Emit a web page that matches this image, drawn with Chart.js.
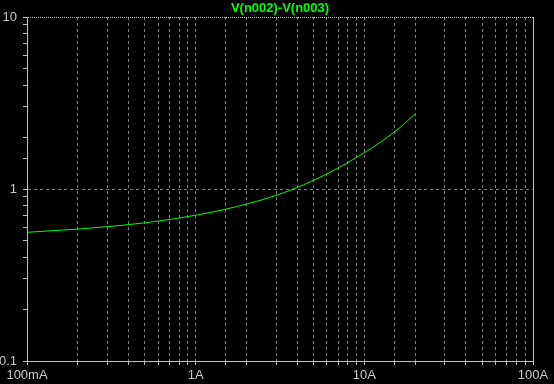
<!DOCTYPE html>
<html>
<head>
<meta charset="utf-8">
<script src="https://cdn.jsdelivr.net/npm/chart.js@4.4.1/dist/chart.umd.min.js"></script>
<style>
  html, body { margin: 0; padding: 0; background: #000; overflow: hidden; }
  canvas { display: block; background: #000; }
</style>
</head>
<body>
<canvas id="plot" width="554" height="384"></canvas>
<script>
// trace (current in A, voltage in V)
const traceName = 'V(n002)-V(n003)';
const currentA = [0.1, 0.163, 0.271, 0.522, 1.02, 1.45, 2.10, 2.83, 3.88, 4.89,
                  6.26, 7.89, 9.95, 12.4, 15.2, 17.4, 19.95];
const voltageV = [0.560, 0.577, 0.599, 0.639, 0.706, 0.757, 0.827, 0.902, 1.008, 1.112,
                  1.251, 1.416, 1.621, 1.864, 2.158, 2.412, 2.735];

const xMajorTicks = [0.1, 1, 10, 100];
const xTickLabels = ['100mA', '1A', '10A', '100A'];
const yMajorTicks = [0.1, 1, 10];
const yTickLabels = ['0.1', '1', '10'];

const GRID = '#808080';
const AXIS = '#c0c0c0';
const TEXT = '#c8c8c8';
const TRACE = '#00ff00';
const FONT = '"Liberation Sans", Arial, sans-serif';

function majorIndex(list, v) {
    return list.findIndex(m => Math.abs(m - v) / m < 1e-6);
}

// title drawn above the plot frame
const traceTitle = {
    id: 'traceTitle',
    afterDraw(chart) {
        const { ctx, chartArea } = chart;
        ctx.save();
        ctx.font = 'bold 13px ' + FONT;
        ctx.fillStyle = TRACE;
        ctx.textAlign = 'center';
        ctx.textBaseline = 'middle';
        ctx.fillText(traceName, (chartArea.left + chartArea.right) / 2, 8);
        ctx.restore();
    }
};

const ctx = document.getElementById('plot').getContext('2d');
new Chart(ctx, {
    type: 'line',
    data: {
        datasets: [{
            label: traceName,
            data: currentA.map((x, i) => ({ x: x, y: voltageV[i] })),
            borderColor: TRACE,
            borderWidth: 1,
            pointRadius: 0,
            fill: false,
            cubicInterpolationMode: 'monotone'
        }]
    },
    options: {
        responsive: false,
        animation: false,
        devicePixelRatio: 1,
        layout: { padding: { top: 17, right: 21, left: 0, bottom: 0 } },
        plugins: {
            legend: { display: false },
            tooltip: { enabled: false }
        },
        scales: {
            x: {
                type: 'logarithmic',
                min: 0.1,
                max: 100,
                afterFit(s) { s.height = 23; },
                grid: {
                    color: c => {
                        const k = majorIndex(xMajorTicks, c.tick.value);
                        if (k === 0) return 'transparent';
                        if (k === xMajorTicks.length - 1) return AXIS;
                        return GRID;
                    },
                    tickColor: AXIS,
                    tickLength: 4
                },
                border: {
                    color: AXIS,
                    dash: c => (c.tick && majorIndex(xMajorTicks, c.tick.value) === xMajorTicks.length - 1) ? [] : [3, 3]
                },
                ticks: {
                    autoSkip: false,
                    maxRotation: 0,
                    padding: 3,
                    color: TEXT,
                    font: { family: FONT, size: 13 },
                    callback: v => {
                        const k = majorIndex(xMajorTicks, v);
                        return k < 0 ? '' : xTickLabels[k];
                    }
                }
            },
            y: {
                type: 'logarithmic',
                min: 0.1,
                max: 10,
                afterFit(s) { s.width = 27; },
                grid: {
                    color: c => {
                        const k = majorIndex(yMajorTicks, c.tick.value);
                        if (k === 1) return GRID;
                        if (k === 2) return AXIS;
                        return 'transparent';
                    },
                    tickColor: AXIS,
                    tickLength: 4
                },
                border: {
                    color: AXIS,
                    dash: c => (c.tick && majorIndex(yMajorTicks, c.tick.value) === 2) ? [1, 1] : [3, 3]
                },
                ticks: {
                    autoSkip: false,
                    padding: 6,
                    color: TEXT,
                    font: { family: FONT, size: 13 },
                    callback: v => {
                        const k = majorIndex(yMajorTicks, v);
                        return k < 0 ? '' : yTickLabels[k];
                    }
                }
            }
        }
    },
    plugins: [traceTitle]
});
</script>
</body>
</html>
